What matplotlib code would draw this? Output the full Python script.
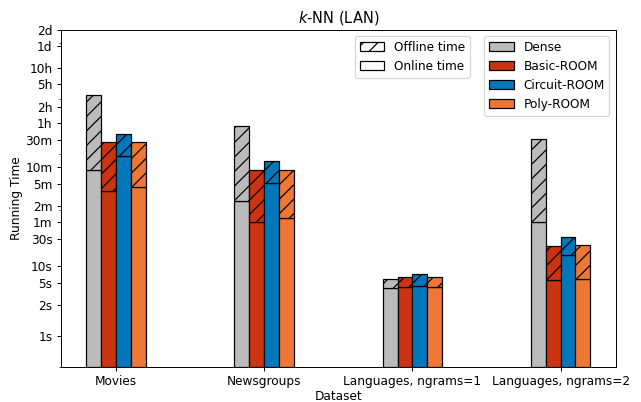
import matplotlib
matplotlib.use("Agg")
import matplotlib.pyplot as plt
import matplotlib.patches as mpatches
import numpy as np

datasets = ["Movies", "Newsgroups", "Languages, ngrams=1", "Languages, ngrams=2"]
methods = ["Dense", "Basic-ROOM", "Circuit-ROOM", "Poly-ROOM"]
colors = ["#bbbbbb", "#cc3311", "#0077bb", "#ee7733"]

# running times in seconds (online part, and total = online + offline)
online = {
    "Dense":        [515, 143, 4.0, 60],
    "Basic-ROOM":   [216, 60, 4.2, 5.5],
    "Circuit-ROOM": [935, 306, 4.4, 15.6],
    "Poly-ROOM":    [255, 72, 4.2, 5.8],
}
total = {
    "Dense":        [11780, 3272, 5.8, 1910],
    "Basic-ROOM":   [1640, 515, 6.3, 22.9],
    "Circuit-ROOM": [2350, 770, 7.0, 32.8],
    "Poly-ROOM":    [1660, 531, 6.3, 23.4],
}

ytick_vals = [1, 2, 5, 10, 30, 60, 120, 300, 600, 1800, 3600, 7200, 18000, 36000, 86400, 172800]
ytick_labels = ["1s", "2s", "5s", "10s", "30s", "1m", "2m", "5m", "10m", "30m",
                "1h", "2h", "5h", "10h", "1d", "2d"]

DPI = 87.5
fig = plt.figure(figsize=(641 / DPI, 402 / DPI), dpi=DPI)
ax = fig.add_axes([61/641, 1-366.7/402, (615.5-61)/641, (366.7-29.7)/402])

x = np.arange(len(datasets))
width = 0.1
for i, m in enumerate(methods):
    pos = x + (i - 1.5) * width
    on = np.array(online[m], dtype=float)
    off = np.array(total[m], dtype=float) - on
    ax.bar(pos, on, width, color=colors[i], edgecolor="black", linewidth=1)
    ax.bar(pos, off, width, bottom=on, color=colors[i], edgecolor="black",
           linewidth=1, hatch="//")

ax.set_yscale("symlog", linthresh=2)
ax.set_ylim(0, 172800)
ax.set_yticks(ytick_vals)
ax.set_yticklabels(ytick_labels)
ax.set_xticks(x)
ax.set_xticklabels(datasets)
ax.set_xlabel("Dataset", labelpad=1.2)
ax.set_ylabel("Running Time", labelpad=2)
ax.set_title("$k$-NN (LAN)")

h1 = [mpatches.Patch(facecolor="white", edgecolor="black", hatch="//", label="Offline time"),
      mpatches.Patch(facecolor="white", edgecolor="black", label="Online time")]
leg1 = ax.legend(handles=h1, loc="upper right", bbox_to_anchor=(0.748, 1))
ax.add_artist(leg1)
h2 = [mpatches.Patch(facecolor=c, edgecolor="black", label=m) for c, m in zip(colors, methods)]
ax.legend(handles=h2, loc="upper right")

fig.savefig("out.png", dpi=DPI)
